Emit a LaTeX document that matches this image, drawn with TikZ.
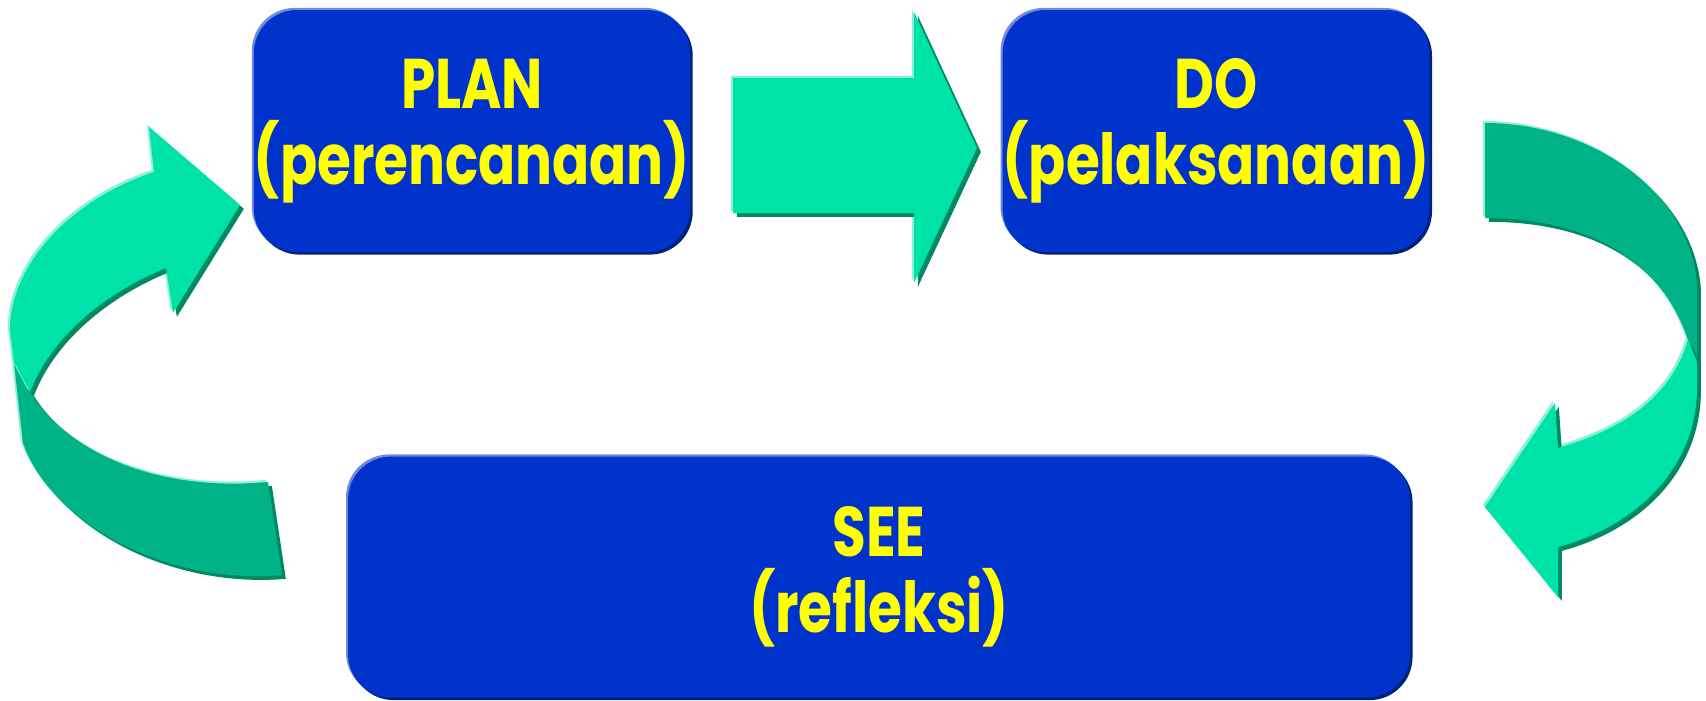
\documentclass[tikz,border=0pt]{standalone}
\usepackage{fontspec}
\setmainfont{Poppins}[FakeStretch=0.78]
\usetikzlibrary{shadows}

\definecolor{boxblue}{HTML}{0033CC}
\definecolor{boxhi}{HTML}{6F8BE0}
\definecolor{boxshade}{HTML}{00237A}
\definecolor{textyellow}{HTML}{FFFF00}
\definecolor{greenlight}{HTML}{00E3A8}
\definecolor{greendark}{HTML}{00B386}
\definecolor{greenhi}{HTML}{8AF2D6}
\definecolor{greenshade}{HTML}{008A63}

\begin{document}
\begin{tikzpicture}[x=0.02cm, y=-0.02cm,
    kotak/.style={rounded corners=0.86cm, fill=boxblue, text=textyellow,
      font=\fontsize{40}{43}\selectfont\bfseries, align=center, inner sep=0pt,
      general shadow={fill=boxhi, shadow xshift=-1.2pt, shadow yshift=1.2pt},
      general shadow={fill=boxshade, shadow xshift=1.5pt, shadow yshift=-1.5pt}},
    panah/.style={fill=#1,
      general shadow={fill=greenhi, shadow xshift=-1.2pt, shadow yshift=1.2pt},
      general shadow={fill=greenshade, shadow xshift=2.2pt, shadow yshift=-2.2pt}}]
  \useasboundingbox (0,0) rectangle (1706,700);

  % boxes
  \node[kotak, minimum width=8.12cm, minimum height=4.84cm] (plan) at (472,131) {PLAN\\(perencanaan)};
  \node[kotak, minimum width=8.44cm, minimum height=4.84cm] (do) at (1216,131) {DO\\(pelaksanaan)};
  \node[kotak, minimum width=21.24cm, minimum height=4.82cm] (see) at (879,577) {SEE\\(refleksi)};

  % plan -> do
  \fill[panah=greenlight] (733,78) -- (914,78) -- (914,12) -- (977,148) -- (914,283) -- (914,213) -- (733,213) -- cycle;

  % do -> see
  \fill[panah=greendark] (1485,123) -- (1485,218) .. controls (1600,218) and (1665,270) .. (1688,340)
    -- (1697,365) -- (1697,285) .. controls (1690,190) and (1590,123) .. (1485,123) -- cycle;
  \fill[panah=greenlight] (1688,340) .. controls (1670,400) and (1620,430) .. (1558,448) -- (1555,403)
    -- (1485,507) -- (1558,597) -- (1558,547) .. controls (1640,525) and (1697,465) .. (1697,387)
    -- (1697,362) -- cycle;

  % see -> plan
  \fill[panah=greendark] (12,345) -- (23,443) .. controls (50,520) and (160,585) .. (282,575)
    -- (268,482) .. controls (160,492) and (70,455) .. (30,392) -- cycle;
  \fill[panah=greenlight] (154,172) .. controls (70,200) and (10,265) .. (10,330) -- (14,362) -- (30,392)
    .. controls (50,340) and (100,295) .. (166,268) -- (173,313) -- (240,205) -- (149,127) -- cycle;
\end{tikzpicture}
\end{document}
